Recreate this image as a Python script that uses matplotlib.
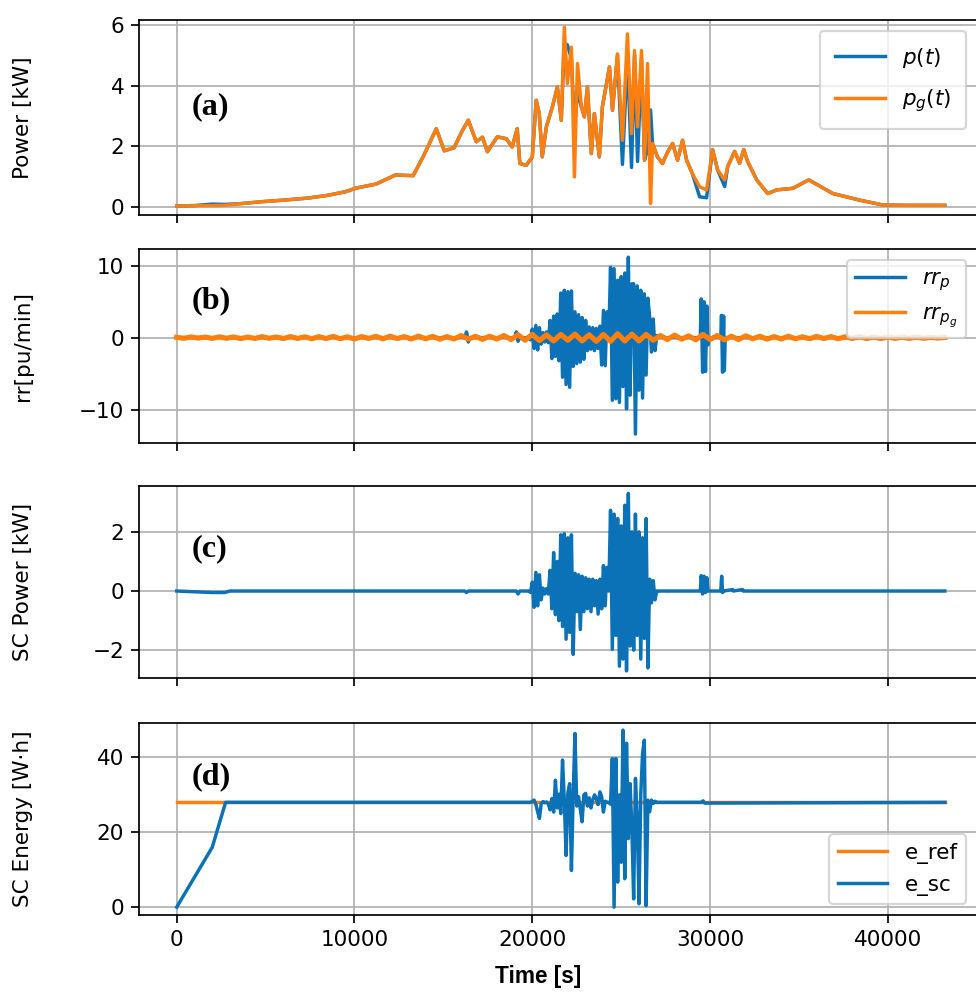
import numpy as np
import matplotlib.pyplot as plt

BLUE = '#0c72b8'
ORANGE = '#ff7f0e'

# (a) PV power p(t) and grid power p_g(t) [kW]
t_pow = [0, 1000, 2000, 2650, 3500, 4800, 6000, 7400, 8500, 9500,
         10100, 11200, 12300, 13300, 13900, 14600, 15050, 15600, 16050, 16400,
         16850, 17200, 17470, 18030, 18540, 18870, 19150, 19300, 19660, 20000,
         20220, 20390, 20560, 20790, 21130, 21410, 21630, 21800, 21970, 22200,
         22370, 22540, 22760, 22930, 23100, 23320, 23490, 23770, 23940, 24340,
         24510, 24790, 25070, 25350, 25580, 25750, 25920, 26140, 26310, 26480,
         26650, 26760, 27040, 27320, 27600, 27890, 28170, 28450, 28680, 29000,
         29410, 29800, 30140, 30420, 30820, 30990, 31380, 31660, 31890, 32110,
         32620, 33240, 33750, 34650, 35550, 36900, 38420, 39720, 41000, 43200]
p_grid = [0.03, 0.04, 0.04, 0.05, 0.10, 0.17, 0.22, 0.29, 0.38, 0.50,
          0.62, 0.75, 1.05, 1.03, 1.70, 2.58, 1.85, 1.95, 2.50, 2.86,
          2.15, 2.30, 1.82, 2.31, 2.25, 1.98, 2.58, 1.43, 1.37, 1.65,
          3.52, 3.08, 1.65, 2.64, 3.30, 3.96, 2.86, 5.93, 4.07, 5.27,
          0.99, 4.73, 3.30, 2.97, 3.96, 1.76, 3.08, 1.65, 3.30, 4.62,
          3.19, 5.05, 2.20, 5.71, 2.42, 5.16, 2.64, 5.16, 1.54, 4.73,
          0.11, 2.09, 1.65, 1.43, 1.80, 2.09, 1.54, 2.20, 1.54, 1.10,
          0.66, 0.56, 1.89, 1.22, 0.89, 1.33, 1.83, 1.44, 1.89, 1.50,
          0.89, 0.44, 0.56, 0.61, 0.89, 0.44, 0.22, 0.06, 0.05, 0.05]
p_pv = [0.03, 0.04, 0.09, 0.08, 0.10, 0.17, 0.22, 0.29, 0.38, 0.50,
        0.62, 0.75, 1.05, 1.03, 1.70, 2.58, 1.85, 1.95, 2.50, 2.86,
        2.15, 2.30, 1.82, 2.31, 2.25, 1.98, 2.58, 1.43, 1.37, 1.65,
        3.52, 3.08, 1.65, 2.64, 3.30, 3.96, 2.86, 5.40, 5.35, 4.90,
        2.60, 3.80, 3.30, 2.97, 3.96, 1.76, 3.08, 1.65, 3.30, 4.62,
        3.19, 5.00, 1.40, 5.00, 1.30, 5.00, 1.50, 4.90, 1.54, 1.90,
        3.20, 2.09, 1.65, 1.43, 1.80, 2.09, 1.54, 2.20, 1.54, 1.10,
        0.33, 0.30, 1.89, 1.22, 0.67, 1.33, 1.83, 1.44, 1.89, 1.50,
        0.89, 0.44, 0.56, 0.61, 0.89, 0.44, 0.22, 0.06, 0.05, 0.05]

# volatile stretch, sampled every 100 s from 19800 s to 27000 s
t_burst = np.arange(19800, 27001, 100)

# (b) ramp rate of p [pu/min]
rr_p_burst = [0.2, -0.3, 1.2, -1.5, 1.7, -1.7, 1.4, -0.9, 0.7, -0.6,
              0.8, -0.7, 2.4, -2.9, 3.0, -2.6, 3.3, -3.2, 6.2, -5.5,
              6.6, -6.5, 6.4, -6.9, 6.5, -4.0, 3.6, -3.6, 3.2, -3.4,
              2.8, -3.0, 2.4, -1.8, 1.5, -1.6, 1.4, -1.8, 1.3, -1.5,
              1.6, -3.8, 3.8, -3.9, 3.6, 0.0, 9.8, -8.7, 9.6, -8.5,
              8.0, -9.0, 8.5, -6.8, 9.0, -9.9, 11.2, -8.0, 7.5, 7.5,
              -13.4, 7.2, -7.3, 6.6, -8.4, 6.1, -5.2, 5.5, 2.9, -2.0,
              2.6, -1.8, 0.3]
t_rr_pre = [0, 16200, 16300, 16400, 16500, 19000, 19100, 19200, 19300, 19700]
rr_p_pre = [0.0, 0.0, 0.8, -0.6, 0.0, 0.0, 0.8, -0.5, 0.0, 0.0]
t_rr_post = [27100, 29450, 29500, 29580, 29660, 29740, 29820, 29880, 29950,
             30600, 30640, 30700, 30760, 30800, 30850, 43200]
rr_p_post = [0.0, 0.0, 5.4, -4.8, 5.0, -4.7, 4.4, -1.0, 0.0,
             0.0, 3.1, -4.8, 3.0, -4.6, 0.0, 0.0]

# (b) ramp rate of p_g, sampled every 400 s
t_rr_g = np.arange(0, 43201, 400)
rr_pg = [0.05, -0.08, 0.1, -0.05, 0.08, -0.1, 0.12, -0.08, 0.1, -0.12,
         0.08, -0.1, 0.15, -0.08, 0.1, -0.12, 0.15, -0.1, 0.12, -0.15,
         0.15, -0.12, 0.18, -0.15, 0.12, -0.18, 0.15, -0.1, 0.18, -0.15,
         0.2, -0.12, 0.15, -0.18, 0.22, -0.15, 0.18, -0.2, 0.15, -0.18,
         0.3, -0.2, 0.18, -0.22, 0.2, -0.18, 0.3, -0.25, 0.4, -0.35,
         0.45, -0.4, 0.4, -0.45, 0.45, -0.35, 0.5, -0.45, 0.4, -0.5,
         0.45, -0.5, 0.55, -0.45, 0.5, -0.45, 0.45, -0.35, 0.3, -0.25,
         0.35, -0.2, 0.25, -0.3, 0.45, -0.25, 0.3, -0.3, 0.2, -0.25,
         0.25, -0.15, 0.2, -0.2, 0.15, -0.18, 0.2, -0.15, 0.12, -0.15,
         0.18, -0.12, 0.15, -0.15, 0.12, -0.1, 0.15, -0.12, 0.1, -0.12,
         0.1, -0.1, 0.08, -0.1, 0.08, -0.08, 0.05, -0.05, 0.03]

# (c) supercapacitor power [kW]
sc_p_burst = [0.0, -0.05, 0.3, -0.55, 0.63, -0.5, 0.55, -0.3, 0.1, -0.1,
              0.08, -0.1, 0.7, -0.6, 1.3, -0.8, 1.0, -1.0, 1.9, -1.2,
              1.94, -1.63, 1.8, -1.4, 1.9, -2.14, 0.6, -0.7, 0.55, -1.3,
              0.5, -0.7, 0.45, -0.6, 0.4, -0.7, 0.4, -0.5, 0.35, -0.78,
              0.4, -0.6, 0.86, -0.5, 0.8, 0.0, 2.73, -1.97, 2.6, -1.5,
              2.45, -2.54, 2.2, -2.3, 2.9, -2.7, 3.3, -1.86, 2.0, -2.0,
              2.6, -1.5, 2.0, -2.3, 1.8, -1.6, 2.45, -2.6, 0.4, -0.4,
              0.35, -0.3, 0.0]
t_scp_pre = [0, 2000, 2700, 3000, 16200, 16300, 16400, 19100, 19200, 19300, 19700]
sc_p_pre = [0.0, -0.05, -0.05, 0.0, 0.0, -0.05, 0.0, 0.0, -0.1, 0.0, 0.0]
t_scp_post = [27100, 29450, 29500, 29580, 29660, 29740, 29820, 29880, 30600,
              30650, 30700, 30750, 31270, 31300, 31830, 31860, 43200]
sc_p_post = [0.0, 0.0, 0.52, -0.1, 0.5, -0.05, 0.45, 0.0, 0.0,
             0.5, -0.05, 0.0, 0.05, 0.0, 0.05, 0.0, 0.0]

# (d) supercapacitor energy [W.h]
e_sc_burst = [28.0, 28.0, 28.3, 28.6, 27.5, 25.5, 23.7, 27.6, 28.2, 27.9,
              28.1, 27.6, 26.0, 29.0, 25.4, 33.9, 26.5, 30.2, 25.0, 39.3,
              28.5, 13.8, 30.5, 33.0, 9.8, 30.0, 46.4, 27.0, 29.5, 26.2,
              22.8, 30.0, 30.4, 27.0, 29.2, 26.5, 28.7, 30.0, 29.0, 27.4,
              30.8, 29.5, 25.4, 28.3, 28.0, 28.0, 27.5, 39.7, 0.0, 39.7,
              6.7, 30.0, 12.0, 47.3, 7.6, 43.8, 18.3, 33.0, 21.0, 2.2,
              34.4, 24.0, 0.9, 30.0, 41.0, 44.6, 0.4, 28.6, 25.5, 28.6,
              27.7, 28.3, 28.0]
t_esc_pre = [0, 2000, 2750, 19700]
e_sc_pre = [0.0, 16.0, 28.0, 28.0]
t_esc_post = [27100, 29500, 29600, 29700, 43200]
e_sc_post = [28.0, 28.0, 28.4, 27.8, 28.0]
t_eref = [0, 43200]
e_ref = [28.0, 28.0]


def stitch(t_pre, v_pre, v_burst, t_post, v_post):
    t = np.concatenate([t_pre, t_burst, t_post])
    v = np.concatenate([v_pre, v_burst, v_post])
    return t, v


def main():
    fig = plt.figure(figsize=(976 / 155, 993 / 155), dpi=155)
    H = 993.0
    W = 976.0
    # pixel boxes (top, bottom) of the four panels
    boxes = [(20, 215), (249, 443), (486, 678), (723, 915)]
    left, right = 139.3, 977.0
    axes = []
    for top, bot in boxes:
        ax = fig.add_axes([left / W, 1 - bot / H, (right - left) / W, (bot - top) / H])
        ax.grid(True)
        ax.set_xlim(-2103, 45010)
        ax.set_xticks([0, 10000, 20000, 30000, 40000])
        axes.append(ax)
    for ax in axes[:-1]:
        ax.tick_params(labelbottom=False)

    lw = 1.6
    ax = axes[0]
    ax.plot(t_pow, p_pv, color=BLUE, lw=lw, label='$p(t)$')
    ax.plot(t_pow, p_grid, color=ORANGE, lw=lw, label='$p_g(t)$')
    ax.set_ylim(-0.27, 6.17)
    ax.set_yticks([0, 2, 4, 6])
    ax.set_ylabel('Power [kW]')
    ax.legend(loc='upper right', borderpad=0.7, labelspacing=0.8, handlelength=2.3)

    ax = axes[1]
    t, v = stitch(t_rr_pre, rr_p_pre, rr_p_burst, t_rr_post, rr_p_post)
    ax.plot(t, v, color=BLUE, lw=lw, label='$rr_p$')
    ax.plot(t_rr_g, rr_pg, color=ORANGE, lw=2.4, label='$rr_{p_g}$')
    ax.set_ylim(-14.65, 12.34)
    ax.set_yticks([-10, 0, 10])
    ax.set_ylabel('rr[pu/min]')
    leg = ax.legend(loc='upper right', handlelength=2.3)
    for line in leg.get_lines():
        line.set_linewidth(lw)

    ax = axes[2]
    t, v = stitch(t_scp_pre, sc_p_pre, sc_p_burst, t_scp_post, sc_p_post)
    ax.plot(t, v, color=BLUE, lw=lw)
    ax.set_ylim(-2.94, 3.55)
    ax.set_yticks([-2, 0, 2])
    ax.set_ylabel('SC Power [kW]')

    ax = axes[3]
    t, v = stitch(t_esc_pre, e_sc_pre, e_sc_burst, t_esc_post, e_sc_post)
    ax.plot(t_eref, e_ref, color=ORANGE, lw=lw, label='e_ref')
    ax.plot(t, v, color=BLUE, lw=lw, label='e_sc')
    ax.set_ylim(-2.1, 49.2)
    ax.set_yticks([0, 20, 40])
    ax.set_ylabel('SC Energy [W·h]')
    ax.legend(loc='lower right', handlelength=2.3)

    tags = ['(a)', '(b)', '(c)', '(d)']
    tag_y = [0.556, 0.732, 0.672, 0.719]
    for ax, tag, y in zip(axes, tags, tag_y):
        ax.yaxis.set_label_coords(-0.127, 0.5)
        ax.text(0.0626, y, tag, transform=ax.transAxes, va='center', ha='left',
                fontsize=15, fontweight='bold', family='Liberation Serif')

    fig.text(538 / W, 1 - 977 / H, 'Time [s]', ha='center', va='center',
             fontsize=10.5, fontweight='bold', family='Liberation Sans')

    fig.savefig('out.png', dpi=155)


if __name__ == '__main__':
    main()
